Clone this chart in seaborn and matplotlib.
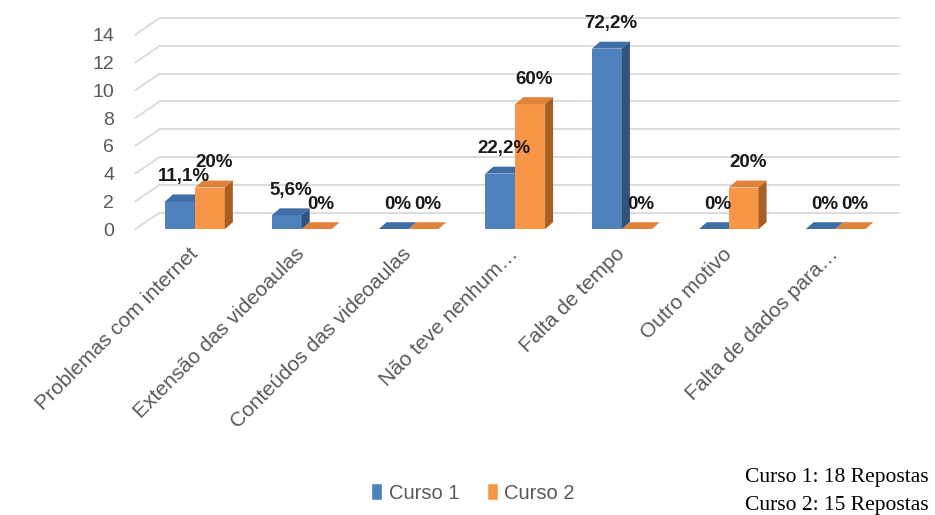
import numpy as np
import pandas as pd
import matplotlib
matplotlib.use("Agg")
import matplotlib.pyplot as plt
from matplotlib.patches import Polygon
from matplotlib.transforms import ScaledTranslation
import seaborn as sns

# dados
categorias = ["Problemas com internet", "Extensão das videoaulas", "Conteúdos das videoaulas",
              "Não teve nenhum…", "Falta de tempo", "Outro motivo", "Falta de dados para…"]
curso1 = [2, 1, 0, 4, 13, 0, 0]
curso2 = [3, 0, 0, 9, 0, 3, 0]
total1 = 18
total2 = 15
y_ticks = [0, 2, 4, 6, 8, 10, 12, 14]

df = pd.DataFrame({
    "categoria": categorias * 2,
    "valor": curso1 + curso2,
    "curso": ["Curso 1"] * len(categorias) + ["Curso 2"] * len(categorias),
})

def pct_label(v, total):
    p = round(v / total * 100, 1)
    if p == int(p):
        return f"{int(p)}%"
    return f"{p:.1f}%".replace(".", ",")

rotulos = [[pct_label(v, total1) for v in curso1], [pct_label(v, total2) for v in curso2]]

sns.set_style("white")
plt.rcParams["font.family"] = ["Liberation Sans", "DejaVu Sans"]

cores = ["#4f81bd", "#f79646"]
cores_topo = ["#3f6ea6", "#e0823a"]
cores_lado = ["#30527d", "#a85f26"]

fig = plt.figure(figsize=(9.35, 5.15), dpi=100)
ax = fig.add_axes([0.140, 0.555, 0.822, 0.418])

sns.barplot(data=df, x="categoria", y="valor", hue="curso", palette=cores,
            width=0.56, saturation=1, ax=ax, legend=True)

ax.set_xlim(-0.6, 6.6)
ax.set_ylim(0, 15.5)

dx = 0.075   # profundidade (x)
dy = 0.5     # profundidade (y)

# "grade" em perspectiva
gx0 = -0.56
gx1 = -0.33
for v in y_ticks:
    ax.plot([gx0, gx1], [v, v + 1.2], color="#d9d9d9", lw=1.3, zorder=0.5, clip_on=False)
    ax.plot([gx1, 6.6], [v + 1.2, v + 1.2], color="#d9d9d9", lw=1.3, zorder=0.5, clip_on=False)

for i, cont in enumerate(ax.containers):
    z = 2 + i
    for j, p in enumerate(cont.patches):
        p.set_zorder(z)
        p.set_edgecolor("none")
        x0, w, h = p.get_x(), p.get_width(), p.get_height()
        topo = Polygon([(x0, h), (x0 + dx, h + dy), (x0 + w + dx, h + dy), (x0 + w, h)],
                       closed=True, facecolor=cores_topo[i], edgecolor="none", zorder=z)
        lado = Polygon([(x0 + w, 0), (x0 + w + dx, dy), (x0 + w + dx, h + dy), (x0 + w, h)],
                       closed=True, facecolor=cores_lado[i], edgecolor="none", zorder=z)
        ax.add_patch(topo)
        ax.add_patch(lado)
        ax.annotate(rotulos[i][j], (x0 + w / 2, h), xytext=(3, 18), textcoords="offset points",
                    ha="center", va="center", fontsize=13.5, fontweight="bold", color="#1a1a1a",
                    zorder=10, annotation_clip=False)

sns.despine(ax=ax, left=True, bottom=True)
ax.set_xlabel("")
ax.set_ylabel("")
ax.set_yticks(y_ticks)
ax.tick_params(axis="y", length=0, pad=12, labelsize=14, labelcolor="#595959")
ax.tick_params(axis="x", length=0, pad=11, labelsize=15, labelcolor="#595959")
desloc = ScaledTranslation(-5 / 72, 0, fig.dpi_scale_trans)
for t in ax.get_xticklabels():
    t.set_rotation(45)
    t.set_ha("right")
    t.set_rotation_mode("anchor")
    t.set_transform(t.get_transform() + desloc)

handles, labels = ax.get_legend_handles_labels()
ax.get_legend().remove()
fig.legend(handles, labels, loc="center", bbox_to_anchor=(0.506, 0.043), ncol=2, frameon=False,
           handlelength=0.55, handleheight=0.9, handletextpad=0.3, columnspacing=1.4,
           fontsize=14.5, labelcolor="#595959")

fig.text(0.993, 0.072, "Curso 1: 18 Repostas", ha="right", va="center",
         family="Liberation Serif", fontsize=15.5, color="black")
fig.text(0.993, 0.018, "Curso 2: 15 Repostas", ha="right", va="center",
         family="Liberation Serif", fontsize=15.5, color="black")

fig.savefig("out.png", dpi=100)
